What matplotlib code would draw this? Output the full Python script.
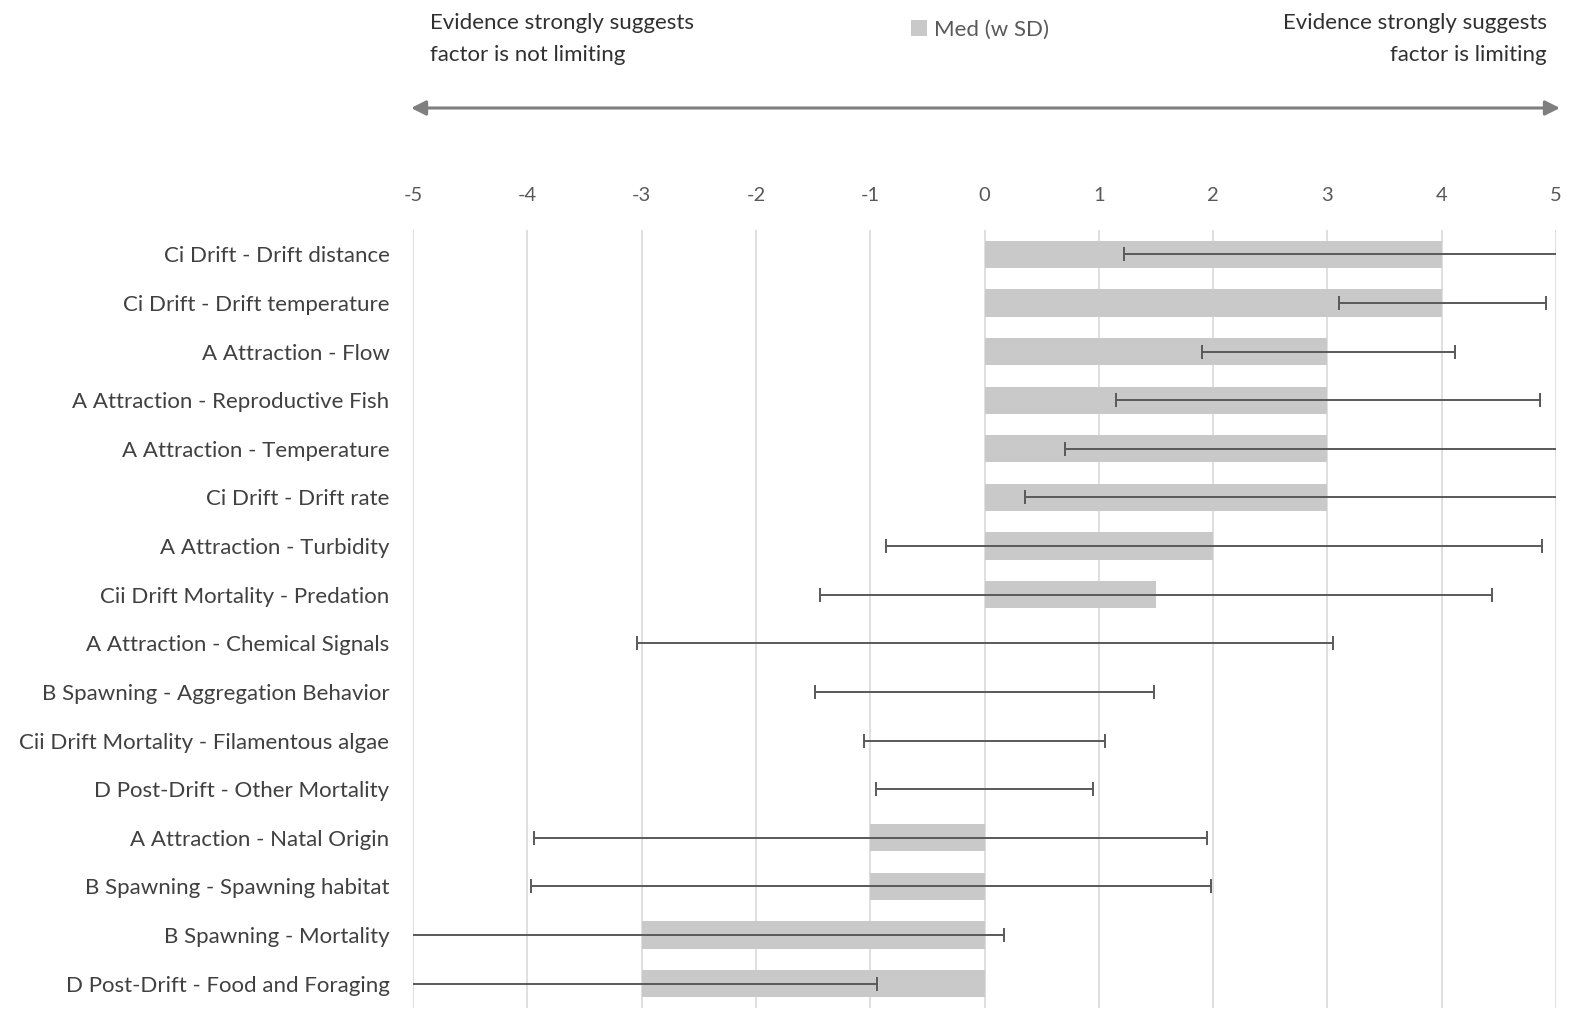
import matplotlib
matplotlib.use("Agg")
import matplotlib.pyplot as plt
import numpy as np

plt.rcParams['font.family'] = ['Lato', 'DejaVu Sans']

categories = [
    "Ci Drift - Drift distance",
    "Ci Drift - Drift temperature",
    "A Attraction - Flow",
    "A Attraction - Reproductive Fish",
    "A Attraction - Temperature",
    "Ci Drift - Drift rate",
    "A Attraction - Turbidity",
    "Cii Drift Mortality - Predation",
    "A Attraction - Chemical Signals",
    "B Spawning - Aggregation Behavior",
    "Cii Drift Mortality - Filamentous algae",
    "D Post-Drift - Other Mortality",
    "A Attraction - Natal Origin",
    "B Spawning - Spawning habitat",
    "B Spawning - Mortality",
    "D Post-Drift - Food and Foraging",
]
median = [4, 4, 3, 3, 3, 3, 2, 1.5, 0, 0, 0, 0, -1, -1, -3, -3]
err_low = [1.22, 3.10, 1.90, 1.15, 0.70, 0.35, -0.86, -1.44, -3.04, -1.48, -1.05, -0.95,
           -3.94, -3.97, -5.4, -5.4]
err_high = [5.4, 4.91, 4.12, 4.86, 5.4, 5.4, 4.88, 4.44, 3.05, 1.48, 1.05, 0.95,
            1.95, 1.98, 0.17, -0.94]
xticks = [-5, -4, -3, -2, -1, 0, 1, 2, 3, 4, 5]
legend_label = "Med (w SD)"
left_note = "Evidence strongly suggests\nfactor is not limiting"
right_note = "Evidence strongly suggests\nfactor is limiting"

W, H = 1576, 1017
fig = plt.figure(figsize=(W / 100, H / 100), dpi=100)
ax = fig.add_axes([413 / W, 1 - 1008 / H, (1556 - 413) / W, (1008 - 230) / H])

y = np.arange(len(categories))
bars = ax.barh(y, median, height=0.56, color='#c9c9c9', label=legend_label, zorder=2)

lo = np.array(err_low)
hi = np.array(err_high)
mid = (lo + hi) / 2
ax.errorbar(mid, y, xerr=[mid - lo, hi - mid], fmt='none', ecolor='#595959',
            elinewidth=1.4, capsize=5, capthick=1.4, zorder=3)

ax.set_xlim(-5, 5)
ax.set_ylim(len(categories) - 0.5, -0.5)
ax.set_xticks(xticks)
ax.set_xticklabels([str(t) for t in xticks])
ax.xaxis.tick_top()
ax.tick_params(axis='x', length=0, pad=19, labelsize=14.5, labelcolor='#595959')
ax.set_yticks(y)
ax.set_yticklabels(categories)
ax.tick_params(axis='y', length=0, pad=17, labelsize=16, labelcolor='#404040')
ax.grid(axis='x', color='#d9d9d9', linewidth=1.2, zorder=0)
ax.set_axisbelow(True)
for s in ax.spines.values():
    s.set_visible(False)

fig.text(430 / W, 1 - 39 / H, left_note, ha='left', va='center', fontsize=16,
         color='#303030', linespacing=1.8)
fig.text(1547 / W, 1 - 39 / H, right_note, ha='right', va='center', fontsize=16,
         color='#303030', linespacing=1.8, multialignment='right')

fig.legend(handles=[bars], labels=[legend_label], loc='center left',
           bbox_to_anchor=(911 / W, 1 - 30 / H), frameon=False, fontsize=16,
           handlelength=0.7, handleheight=0.7, handletextpad=0.35,
           borderpad=0, borderaxespad=0, labelcolor='#595959')

ax.annotate('', xy=(1560 / W, 1 - 108 / H), xytext=(411 / W, 1 - 108 / H),
            xycoords='figure fraction', textcoords='figure fraction',
            arrowprops=dict(arrowstyle='<|-|>', color='#7f7f7f', lw=2.2,
                            mutation_scale=22, shrinkA=0, shrinkB=0))

fig.savefig('out.png', dpi=100)
